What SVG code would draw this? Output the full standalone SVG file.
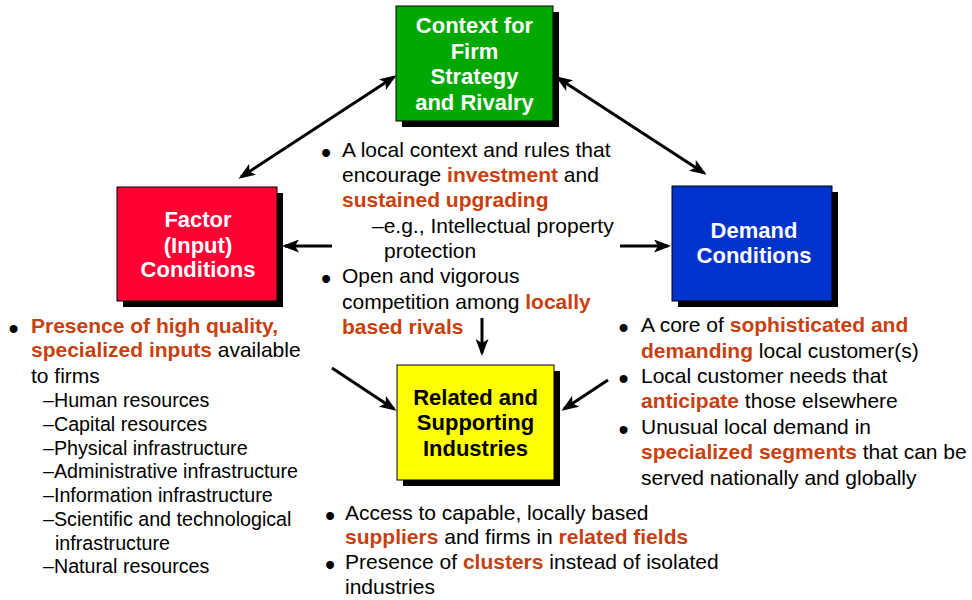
<svg xmlns="http://www.w3.org/2000/svg" width="972" height="600" viewBox="0 0 972 600">
<style>
text{font-family:"Liberation Sans",Arial,sans-serif;fill:#000}
.t{font-size:22px;font-weight:bold;text-anchor:middle;fill:#fff}
.ty{font-size:22px;font-weight:bold;text-anchor:middle;fill:#000}
.b{font-size:21px}
.s{font-size:19.7px}
.h{font-weight:bold;fill:#C84010}
.bu{font-size:29px;text-anchor:middle}
.sh{fill:#000}
.box{stroke:#000;stroke-width:1}
.c{stroke:#000;stroke-width:3;fill:none;marker-end:url(#ah)}
.d{marker-start:url(#ah)}
</style>
<defs>
<marker id="ah" viewBox="0 0 17 13" refX="14" refY="6.5" markerWidth="17" markerHeight="13" markerUnits="userSpaceOnUse" orient="auto-start-reverse">
<path d="M0,0 L17,6.5 L0,13 L4,6.5 Z" fill="#000"/>
</marker>
</defs>
<g id="connectors">
<line class="c d" x1="394" y1="77" x2="241" y2="177"/>
<line class="c d" x1="558" y1="78" x2="704" y2="173"/>
<line class="c" x1="332" y1="246" x2="285" y2="246"/>
<line class="c" x1="620" y1="246" x2="668" y2="246"/>
<line class="c" x1="482" y1="318" x2="482" y2="353"/>
<line class="c" x1="332" y1="368" x2="394" y2="409"/>
<line class="c" x1="608" y1="380" x2="564" y2="409"/>
</g>
<g id="context">
<rect class="sh" x="402" y="12" width="157" height="115"/>
<rect class="box" x="396" y="6" width="157" height="115" fill="#00A800"/>
<text class="t" x="474.5" y="33">Context for</text>
<text class="t" x="474.5" y="59">Firm</text>
<text class="t" x="474.5" y="84">Strategy</text>
<text class="t" x="474.5" y="110">and Rivalry</text>
</g>
<g id="factor">
<rect class="sh" x="123" y="193" width="160" height="114"/>
<rect class="box" x="117" y="187" width="160" height="114" fill="#FF0033"/>
<text class="t" x="198" y="227">Factor</text>
<text class="t" x="198" y="253">(Input)</text>
<text class="t" x="198" y="277">Conditions</text>
</g>
<g id="demand">
<rect class="sh" x="678" y="192" width="160" height="115"/>
<rect class="box" x="672" y="186" width="160" height="115" fill="#0033CC"/>
<text class="t" x="754" y="238">Demand</text>
<text class="t" x="754" y="263">Conditions</text>
</g>
<g id="related">
<rect class="sh" x="403" y="371" width="157" height="115"/>
<rect class="box" x="397" y="365" width="157" height="115" fill="#FFFF00"/>
<text class="ty" x="475.5" y="405">Related and</text>
<text class="ty" x="475.5" y="430">Supporting</text>
<text class="ty" x="475.5" y="456">Industries</text>
</g>
<g id="context-text">
<text class="bu" x="326" y="163">•</text>
<text class="b" x="342" y="157">A local context and rules that</text>
<text class="b" x="342" y="182">encourage <tspan class="h">investment</tspan> and</text>
<text class="b h" x="342" y="207">sustained upgrading</text>
<text class="b" x="372" y="233">–e.g., Intellectual property</text>
<text class="b" x="384" y="258">protection</text>
<text class="bu" x="326" y="289">•</text>
<text class="b" x="342" y="283">Open and vigorous</text>
<text class="b" x="342" y="309">competition among <tspan class="h">locally</tspan></text>
<text class="b h" x="342" y="334">based rivals</text>
</g>
<g id="factor-text">
<text class="bu" x="13.5" y="339">•</text>
<text class="b h" x="31" y="333">Presence of high quality,</text>
<text class="b" x="31" y="357"><tspan class="h">specialized inputs</tspan> available</text>
<text class="b" x="31" y="383">to firms</text>
<text class="s" x="43" y="407">–Human resources</text>
<text class="s" x="43" y="431">–Capital resources</text>
<text class="s" x="43" y="455">–Physical infrastructure</text>
<text class="s" x="43" y="478">–Administrative infrastructure</text>
<text class="s" x="43" y="502">–Information infrastructure</text>
<text class="s" x="43" y="526">–Scientific and technological</text>
<text class="s" x="55" y="550">infrastructure</text>
<text class="s" x="43" y="573">–Natural resources</text>
</g>
<g id="demand-text">
<text class="bu" x="623.5" y="338">•</text>
<text class="b" x="641" y="332">A core of <tspan class="h">sophisticated and</tspan></text>
<text class="b" x="641" y="358"><tspan class="h">demanding</tspan> local customer(s)</text>
<text class="bu" x="623.5" y="389">•</text>
<text class="b" x="641" y="383">Local customer needs that</text>
<text class="b" x="641" y="408"><tspan class="h">anticipate</tspan> those elsewhere</text>
<text class="bu" x="623.5" y="440">•</text>
<text class="b" x="641" y="434">Unusual local demand in</text>
<text class="b" x="641" y="459"><tspan class="h">specialized segments</tspan> that can be</text>
<text class="b" x="641" y="485">served nationally and globally</text>
</g>
<g id="related-text">
<text class="bu" x="330" y="526">•</text>
<text class="b" x="345" y="520">Access to capable, locally based</text>
<text class="b" x="345" y="544"><tspan class="h">suppliers</tspan> and firms in <tspan class="h">related fields</tspan></text>
<text class="bu" x="330" y="575">•</text>
<text class="b" x="345" y="569">Presence of <tspan class="h">clusters</tspan> instead of isolated</text>
<text class="b" x="345" y="594">industries</text>
</g>
</svg>
